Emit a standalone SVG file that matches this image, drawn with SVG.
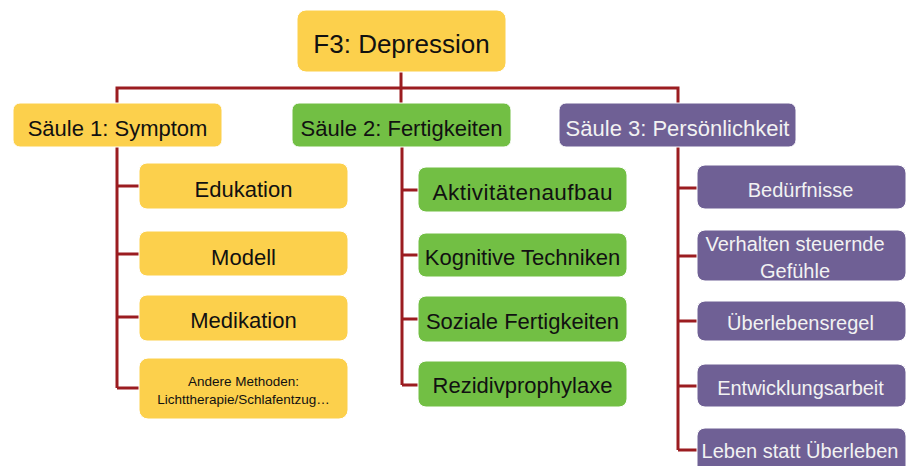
<svg xmlns="http://www.w3.org/2000/svg" width="906" height="466" viewBox="0 0 906 466">
<style>
.y{fill:#FCD04C;stroke:#fff;stroke-width:1}
.g{fill:#72BF44;stroke:#fff;stroke-width:1}
.p{fill:#6F6095;stroke:#fff;stroke-width:1}
text{font-family:"Liberation Sans",Arial,sans-serif;text-anchor:middle}
.d{fill:#111}
.w{fill:#F2F2F2}
.c{fill:none;stroke:#9B1C20;stroke-width:3}
</style>
<rect width="906" height="466" fill="#fff"/>
<g id="connectors" class="c">
<path d="M401,72 V104 M117,104 V88 H678 V104"/>
<path d="M117,147 V388 M117,186 H139 M117,254 H139 M117,317 H139 M117,388 H139"/>
<path d="M402,147 V385 M402,190 H418 M402,255 H418 M402,319 H418 M402,385 H418"/>
<path d="M678,147 V450 M678,188 H697 M678,256 H697 M678,321 H697 M678,386 H697 M678,450 H697"/>
</g>
<g id="root"><rect class="y" x="297" y="10" width="209" height="62" rx="9"/><text class="d" x="401.5" y="53" font-size="26">F3: Depression</text></g>
<g id="s1"><rect class="y" x="13" y="103" width="209" height="44" rx="7"/><text class="d" x="117.5" y="136" font-size="22">Säule 1: Symptom</text></g>
<g id="s2"><rect class="g" x="292" y="103" width="219" height="44" rx="7"/><text class="d" x="401.5" y="136" font-size="22">Säule 2: Fertigkeiten</text></g>
<g id="s3"><rect class="p" x="559" y="103" width="237" height="44" rx="7"/><text class="w" x="677.5" y="136" font-size="22">Säule 3: Persönlichkeit</text></g>
<g id="n-edukation"><rect class="y" x="139" y="163" width="209" height="46" rx="8"/><text class="d" x="243.5" y="197" font-size="22">Edukation</text></g>
<g id="n-modell"><rect class="y" x="139" y="231" width="209" height="45" rx="8"/><text class="d" x="243.5" y="265" font-size="22">Modell</text></g>
<g id="n-medikation"><rect class="y" x="139" y="295" width="209" height="46" rx="8"/><text class="d" x="243.5" y="328" font-size="22">Medikation</text></g>
<g id="n-andere"><rect class="y" x="139" y="358" width="209" height="61" rx="9"/><text class="d" x="243.5" y="386" font-size="13.5">Andere Methoden:</text><text class="d" x="243.5" y="404" font-size="13.5">Lichttherapie/Schlafentzug…</text></g>
<g id="n-aktiv"><rect class="g" x="418" y="167" width="209" height="45" rx="8"/><text class="d" x="522.5" y="200" font-size="22.5" textLength="180">Aktivitätenaufbau</text></g>
<g id="n-kognitiv"><rect class="g" x="418" y="233" width="209" height="44" rx="8"/><text class="d" x="522.5" y="265" font-size="22">Kognitive Techniken</text></g>
<g id="n-sozial"><rect class="g" x="418" y="296" width="209" height="46" rx="8"/><text class="d" x="522.5" y="329" font-size="22">Soziale Fertigkeiten</text></g>
<g id="n-rezidiv"><rect class="g" x="418" y="361" width="209" height="46" rx="8"/><text class="d" x="522.5" y="393" font-size="22">Rezidivprophylaxe</text></g>
<g id="n-beduerfnisse"><rect class="p" x="697" y="165" width="209" height="44" rx="8"/><text class="w" x="800.5" y="197" font-size="20">Bedürfnisse</text></g>
<g id="n-verhalten"><rect class="p" x="697" y="230" width="209" height="51" rx="8"/><text class="w" x="795" y="251" font-size="20">Verhalten steuernde</text><text class="w" x="795" y="278" font-size="20">Gefühle</text></g>
<g id="n-regel"><rect class="p" x="697" y="301" width="209" height="40" rx="8"/><text class="w" x="800.5" y="330" font-size="20">Überlebensregel</text></g>
<g id="n-entwicklung"><rect class="p" x="697" y="364" width="209" height="43" rx="8"/><text class="w" x="800.5" y="395" font-size="20">Entwicklungsarbeit</text></g>
<g id="n-leben"><rect class="p" x="697" y="428" width="209" height="46" rx="8"/><text class="w" x="800" y="458" font-size="20">Leben statt Überleben</text></g>
</svg>
